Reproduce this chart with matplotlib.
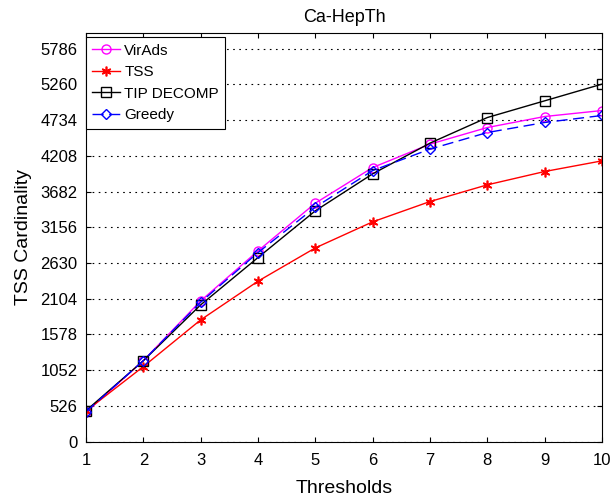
import numpy as np
import matplotlib
matplotlib.use("Agg")
from matplotlib import pyplot as plt

plt.rcParams['font.family'] = ['Liberation Sans', 'DejaVu Sans']

thresholds = [1, 2, 3, 4, 5, 6, 7, 8, 9, 10]
virads = [430, 1192, 2072, 2808, 3511, 4036, 4380, 4625, 4787, 4875]
tss = [450, 1104, 1792, 2362, 2852, 3236, 3535, 3781, 3977, 4134]
tip_decomp = [455, 1190, 2013, 2710, 3398, 3943, 4395, 4772, 5018, 5264]
greedy = [440, 1192, 2052, 2783, 3452, 3991, 4307, 4551, 4699, 4802]

ytick_vals = [526 * i for i in range(12)]

fig = plt.figure(figsize=(6.12, 5.01), dpi=100)
ax = fig.add_axes([0.1405, 0.1186, 0.8432, 0.8149])

ax.plot(thresholds, virads, color='magenta', marker='o', mfc='none',
        ms=6.5, lw=1, label='VirAds')
# asterisk marker drawn as a 6-spoke star
ax.plot(thresholds, tss, color='red', marker=(6, 2, 0), ms=7, mew=1.2,
        lw=1, label='TSS')
ax.plot(thresholds, tip_decomp, color='black', marker='s', mfc='none',
        ms=6.5, lw=1, label='TIP DECOMP')
ax.plot(thresholds, greedy, color='blue', marker='D', mfc='none', ms=5,
        lw=1, ls=(0, (8, 4)), label='Greedy')

ax.set_xlim(1, 10)
ax.set_ylim(0, 6012)
ax.set_xticks(thresholds)
ax.set_yticks(ytick_vals)
ax.yaxis.grid(True, ls=(0, (1.5, 4)), color='black', lw=0.8)
ax.tick_params(direction='in', top=True, right=True, labelsize=12, pad=6)
ax.tick_params(axis='x', pad=8)

ax.set_title('Ca-HepTh', fontsize=13, pad=8)
ax.set_xlabel('Thresholds', fontsize=14, labelpad=9)
ax.set_ylabel('TSS Cardinality', fontsize=14, labelpad=6)

leg = ax.legend(loc='upper left', bbox_to_anchor=(0.0, 0.99), fontsize=11,
                fancybox=False, framealpha=1, edgecolor='black',
                borderaxespad=0, borderpad=0.4, handlelength=1.8,
                handletextpad=0.3, labelspacing=0.5)
leg.get_frame().set_linewidth(0.8)

fig.savefig('out.png', dpi=100)
